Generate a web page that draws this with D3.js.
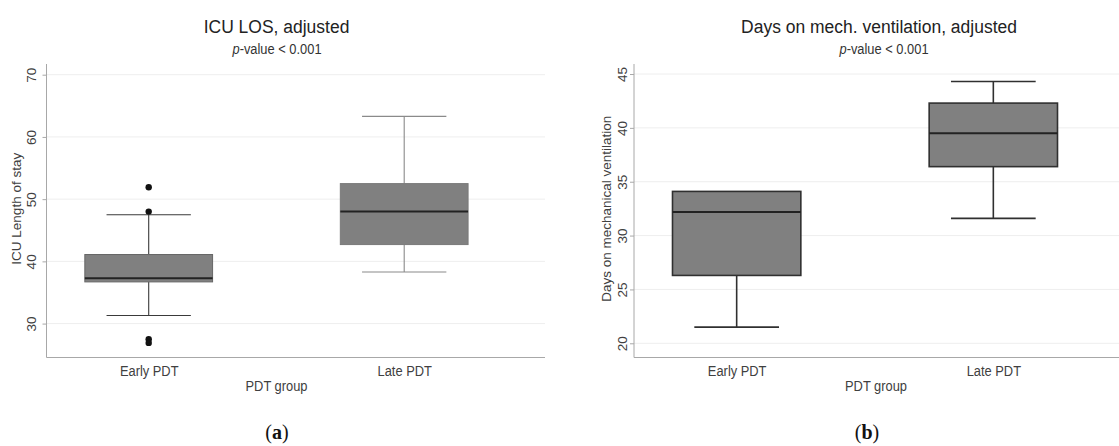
<!DOCTYPE html>
<html>
<head>
<meta charset="utf-8">
<script src="https://cdn.jsdelivr.net/npm/d3@7"></script>
<style>
  html, body { margin: 0; padding: 0; background: #fff; }
  svg { display: block; }
  text { font-family: "Liberation Sans", Arial, Helvetica, sans-serif; }
</style>
</head>
<body>
<svg id="chart" width="1119" height="446"></svg>
<script>
// ---- data ----
const categories = ["Early PDT", "Late PDT"];

// ICU LOS: [lower whisker, Q1, median, Q3, upper whisker]
const icuEarly = [31.3, 36.7, 37.3, 41.1, 47.5];
const icuLate  = [38.3, 42.7, 48.0, 52.5, 63.3];
const icuEarlyOutliers = [51.9, 48.0, 27.5, 26.9];
const icuLateOutliers = [];
const icuTicks = [30, 40, 50, 60, 70];

// Days on mechanical ventilation: [lower whisker, Q1, median, Q3, upper whisker]
const ventEarly = [21.5, 26.3, 32.2, 34.1, 34.1];
const ventLate  = [31.6, 36.4, 39.5, 42.3, 44.3];
const ventTicks = [20, 25, 30, 35, 40, 45];

const titles = ["ICU LOS, adjusted", "Days on mech. ventilation, adjusted"];
const yLabels = ["ICU Length of stay", "Days on mechanical ventilation"];
const xLabel = "PDT group";
const panelTags = ["a", "b"];

// ---- layout ----
const svg = d3.select("#chart");
const SQ = 0.92; // horizontal squeeze of the reference's lettering

const panels = [
  {
    x0: 46.5, x1: 506.4, gridEnd: 545, yTop: 64, yBot: 357.5, domain: [24.55, 71.72],
    stats: [icuEarly, icuLate], outliers: [icuEarlyOutliers, icuLateOutliers],
    ticks: icuTicks, title: titles[0], yLabel: yLabels[0], tag: panelTags[0],
    yLabelX: 20.5, tickOff: 10.5,
    titleX: 276.5, subX: 277, xlabX: 276.5, tagX: 277,
    whisk: ["#3a3a3a", "#8a8a8a"], edge: ["#666", "#7a7a7a"], edgeW: 1, whiskW: 1.1
  },
  {
    x0: 634, x1: 1096, gridEnd: 1119, yTop: 64, yBot: 357.5, domain: [18.68, 45.93],
    stats: [ventEarly, ventLate], outliers: [[], []],
    ticks: ventTicks, title: titles[1], yLabel: yLabels[1], tag: panelTags[1],
    yLabelX: 611, tickOff: 7.5,
    titleX: 879, subX: 884, xlabX: 876, tagX: 867,
    whisk: ["#303030", "#303030"], edge: ["#303030", "#303030"], edgeW: 1.6, whiskW: 1.6
  }
];

function squeezedText(g, x, y, size) {
  return g.append("text")
    .attr("transform", `translate(${x},${y}) scale(${SQ},1)`)
    .attr("text-anchor", "middle")
    .style("font-size", size + "px");
}

panels.forEach(p => {
  const g = svg.append("g");
  const x = d3.scalePoint().domain(categories).range([p.x0, p.x1]).padding(0.4);
  const y = d3.scaleLinear().domain(p.domain).range([p.yBot, p.yTop]);
  const step = x.step();
  const boxW = step * 0.5;
  const capW = step * 0.33;

  // gridlines
  g.append("g").selectAll("line").data(p.ticks).join("line")
    .attr("x1", p.x0).attr("x2", p.gridEnd)
    .attr("y1", d => y(d)).attr("y2", d => y(d))
    .attr("stroke", "#eeeeee").attr("stroke-width", 1);

  // y axis
  const ya = g.append("g").attr("transform", `translate(${p.x0},0)`)
    .call(d3.axisLeft(y).tickValues(p.ticks).tickSize(4).tickSizeOuter(0).tickFormat(d3.format("d")));
  ya.select(".domain").attr("stroke", "#a8a8a8").attr("d", `M0,${p.yTop}V${p.yBot}`);
  ya.selectAll(".tick line").attr("stroke", "#a8a8a8");
  ya.selectAll(".tick text")
    .attr("x", 0).attr("y", -p.tickOff).attr("dy", 0)
    .attr("transform", "rotate(-90)")
    .attr("text-anchor", "middle")
    .attr("fill", "#404040")
    .style("font-size", "13.5px");

  // x axis
  const xa = g.append("g").attr("transform", `translate(0,${p.yBot})`)
    .call(d3.axisBottom(x).tickSize(0).tickSizeOuter(0));
  xa.select(".domain").attr("stroke", "#a8a8a8").attr("d", `M${p.x0},0H${p.gridEnd}`);
  xa.selectAll(".tick text")
    .attr("y", 0).attr("dy", 0)
    .attr("transform", `translate(0,18) scale(${SQ},1)`)
    .attr("fill", "#404040")
    .style("font-size", "14px");

  // boxes
  categories.forEach((c, i) => {
    const s = p.stats[i];
    const xc = x(c);
    const bg = g.append("g");
    // whiskers
    bg.append("line").attr("x1", xc).attr("x2", xc).attr("y1", y(s[3])).attr("y2", y(s[4]))
      .attr("stroke", p.whisk[i]).attr("stroke-width", p.whiskW);
    bg.append("line").attr("x1", xc).attr("x2", xc).attr("y1", y(s[1])).attr("y2", y(s[0]))
      .attr("stroke", p.whisk[i]).attr("stroke-width", p.whiskW);
    // caps
    [s[0], s[4]].forEach(v => {
      if (v === s[3] || v === s[1]) return;
      bg.append("line").attr("x1", xc - capW / 2).attr("x2", xc + capW / 2)
        .attr("y1", y(v)).attr("y2", y(v))
        .attr("stroke", p.whisk[i]).attr("stroke-width", p.whiskW);
    });
    // box
    bg.append("rect")
      .attr("x", xc - boxW / 2).attr("width", boxW)
      .attr("y", y(s[3])).attr("height", y(s[1]) - y(s[3]))
      .attr("fill", "#808080").attr("stroke", p.edge[i]).attr("stroke-width", p.edgeW);
    // median
    bg.append("line").attr("x1", xc - boxW / 2).attr("x2", xc + boxW / 2)
      .attr("y1", y(s[2])).attr("y2", y(s[2]))
      .attr("stroke", "#222").attr("stroke-width", 2);
    // outliers
    bg.selectAll("circle").data(p.outliers[i]).join("circle")
      .attr("cx", xc).attr("cy", d => y(d)).attr("r", 3.2).attr("fill", "#111");
  });

  // titles
  squeezedText(g, p.titleX, 32.5, 19).attr("fill", "#222").text(p.title);
  const sub = squeezedText(g, p.subX, 53.5, 14).attr("fill", "#333");
  sub.append("tspan").style("font-style", "italic").text("p");
  sub.append("tspan").text("-value < 0.001");

  // axis titles
  g.append("text").attr("transform", `translate(${p.yLabelX},${(p.yTop + p.yBot) / 2 - 2}) rotate(-90)`)
    .attr("text-anchor", "middle").attr("fill", "#404040").style("font-size", "13.5px").text(p.yLabel);
  squeezedText(g, p.xlabX, 391, 14).attr("fill", "#404040").text(xLabel);

  // panel tag
  const t = g.append("text").attr("x", p.tagX).attr("y", 439).attr("text-anchor", "middle")
    .attr("fill", "#111").style("font-family", "'Liberation Serif', 'Times New Roman', serif")
    .style("font-size", "20px");
  t.append("tspan").text("(");
  t.append("tspan").style("font-weight", "bold").text(p.tag);
  t.append("tspan").text(")");
});
</script>
</body>
</html>
